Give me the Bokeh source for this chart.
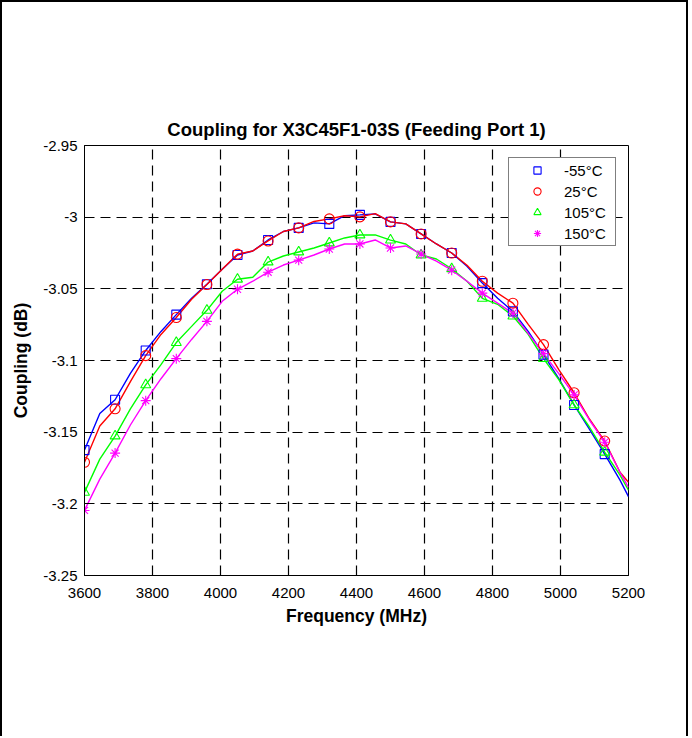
from bokeh.plotting import figure
from bokeh.models import FixedTicker, Legend, LegendItem, ColumnDataSource
from bokeh.embed import file_html
from bokeh.resources import INLINE

# ---- data ----
freq_mhz = [3600, 3645, 3690, 3735, 3780, 3825, 3870, 3915, 3960, 4005,
            4050, 4095, 4140, 4185, 4230, 4275, 4320, 4365, 4410, 4455,
            4500, 4545, 4590, 4635, 4680, 4725, 4770, 4815, 4860, 4905,
            4950, 4995, 5040, 5085, 5130, 5175, 5200]

coup_m55 = [-3.1625, -3.137, -3.1274, -3.109, -3.093, -3.0797, -3.068, -3.0566, -3.0468, -3.0363,
            -3.0264, -3.0236, -3.0159, -3.010, -3.0075, -3.004, -3.0047, -2.999, -2.9984, -2.9977,
            -3.0033, -3.0047, -3.0117, -3.0187, -3.025, -3.0342, -3.046, -3.0566, -3.0657, -3.0797,
            -3.0959, -3.1127, -3.131, -3.1478, -3.1653, -3.1835, -3.195]

coup_25 = [-3.171, -3.1457, -3.1337, -3.1148, -3.0966, -3.0818, -3.070, -3.0573, -3.047, -3.0363,
           -3.0258, -3.0236, -3.0166, -3.010, -3.0075, -3.003, -3.0012, -2.999, -2.9998, -2.9975,
           -3.0033, -3.0047, -3.0117, -3.0187, -3.025, -3.0335, -3.0447, -3.053, -3.060, -3.0748,
           -3.0889, -3.1064, -3.1225, -3.1408, -3.1562, -3.178, -3.185]

coup_105 = [-3.192, -3.1688, -3.1527, -3.1337, -3.117, -3.1029, -3.0875, -3.0762, -3.065, -3.0517,
            -3.0433, -3.0419, -3.0313, -3.0271, -3.0243, -3.0215, -3.018, -3.0145, -3.0124, -3.0124,
            -3.016, -3.0187, -3.0264, -3.0292, -3.036, -3.0447, -3.0566, -3.0608, -3.069, -3.0818,
            -3.0987, -3.1134, -3.131, -3.1464, -3.164, -3.180, -3.1905]

coup_150 = [-3.2046, -3.1828, -3.1646, -3.145, -3.128, -3.1127, -3.0987, -3.0853, -3.0727, -3.0587,
            -3.0503, -3.0447, -3.0384, -3.0334, -3.030, -3.0264, -3.0222, -3.0187, -3.0187, -3.0159,
            -3.0215, -3.0201, -3.0257, -3.0306, -3.037, -3.0447, -3.053, -3.060, -3.067, -3.0811,
            -3.0952, -3.1092, -3.124, -3.1415, -3.157, -3.178, -3.1885]

series_labels = ["-55°C", "25°C", "105°C", "150°C"]
x_ticks = [3600, 3800, 4000, 4200, 4400, 4600, 4800, 5000, 5200]
y_ticks = [-3.25, -3.2, -3.15, -3.1, -3.05, -3.0, -2.95]
y_tick_labels = ["-3.25", "-3.2", "-3.15", "-3.1", "-3.05", "-3", "-2.95"]

FONT = "Liberation Sans"

p = figure(width=688, height=736, output_backend="svg", toolbar_location=None,
           x_range=(3600, 5200), y_range=(-3.25, -2.95),
           min_border_left=82, min_border_right=62, min_border_top=143, min_border_bottom=163,
           title="Coupling for X3C45F1-03S (Feeding Port 1)")
p.styles = {"border-left": "2px solid black", "border-top": "2px solid black",
            "border-right": "2px solid black"}
p.background_fill_color = "white"
p.border_fill_color = "white"
p.outline_line_color = "black"
p.outline_line_width = 1

p.title.align = "center"
p.title.text_font = FONT
p.title.text_font_size = "18.5px"
p.title.text_font_style = "bold"
p.title.text_color = "black"
p.title.standoff = 11

for ax in (p.xaxis[0], p.yaxis[0]):
    ax.major_tick_in = 5
    ax.major_tick_out = 0
    ax.minor_tick_in = 0
    ax.minor_tick_out = 0
    ax.axis_line_color = "black"
    ax.major_tick_line_color = "black"
    ax.major_label_text_font = FONT
    ax.major_label_text_font_size = "15px"
    ax.major_label_text_color = "black"
    ax.axis_label_text_font = FONT
    ax.axis_label_text_font_size = "17.5px"
    ax.axis_label_text_font_style = "bold"
    ax.axis_label_text_color = "black"

p.xaxis.ticker = FixedTicker(ticks=x_ticks)
p.yaxis.ticker = FixedTicker(ticks=y_ticks)
p.yaxis.major_label_overrides = dict(zip(y_ticks, y_tick_labels))
p.xaxis.axis_label = "Frequency (MHz)"
p.yaxis.axis_label = "Coupling (dB)"
p.xaxis.major_label_standoff = 12
p.xaxis.axis_label_standoff = 5
p.yaxis.major_label_standoff = 7
p.yaxis.axis_label_standoff = 9

for g in (p.xgrid[0], p.ygrid[0]):
    g.grid_line_color = "black"
    g.grid_line_width = 1.2
    g.grid_line_dash = "10 6"

p.xgrid.ticker = FixedTicker(ticks=x_ticks)
p.ygrid.ticker = FixedTicker(ticks=y_ticks)

colors = ["#0000ff", "#ff0000", "#00ff00", "#ff00ff"]
markers = ["square", "circle", "triangle", "asterisk"]
sizes = [9, 10, 10, 10]
series = [coup_m55, coup_25, coup_105, coup_150]

items = []
marker_idx = list(range(0, 35, 2))
for vals, col in zip(series, colors):
    p.line(freq_mhz, vals, line_color=col, line_width=1.4)
for vals, col, mk, sz, lab in zip(series, colors, markers, sizes, series_labels):
    src = ColumnDataSource(dict(x=[freq_mhz[i] for i in marker_idx],
                                y=[vals[i] for i in marker_idx]))
    r = p.scatter("x", "y", source=src, marker=mk, size=sz, line_color=col,
                  fill_color=None, line_width=1.1)
    items.append(LegendItem(label=lab, renderers=[r]))

legend = Legend(items=items, location="top_right", margin=12,
                padding=3, spacing=3, glyph_width=50, glyph_height=18,
                label_height=18, label_width=48, label_standoff=2,
                label_text_font=FONT, label_text_font_size="15px",
                label_text_color="black",
                border_line_color="black", border_line_width=1,
                background_fill_color="white", background_fill_alpha=1.0)
p.add_layout(legend)

open("out.html", "w").write(file_html(p, INLINE))
